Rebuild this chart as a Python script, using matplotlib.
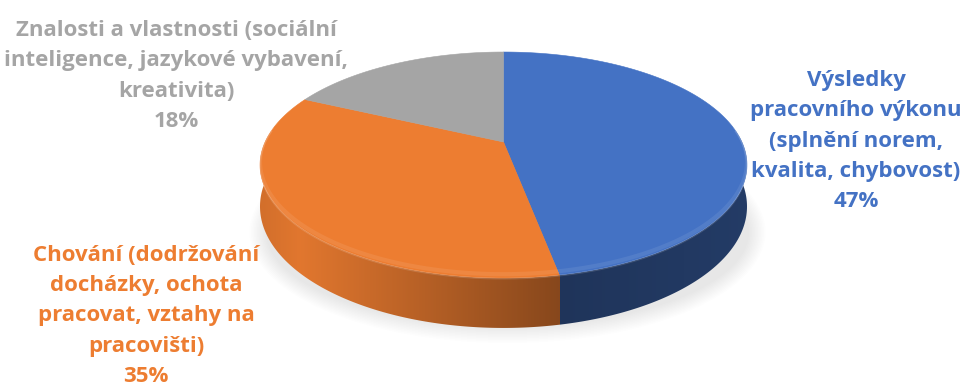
import numpy as np
import matplotlib.pyplot as plt
from matplotlib.patches import Polygon, Ellipse
from matplotlib.colors import to_rgb

# slice data, drawn clockwise from 12 o'clock
labels = [
    "Výsledky\npracovního výkonu\n(splnění norem,\nkvalita, chybovost)",
    "Chování (dodržování\ndocházky, ochota\npracovat, vztahy na\npracovišti)",
    "Znalosti a vlastnosti (sociální\ninteligence, jazykové vybavení,\nkreativita)",
]
shares = [47, 35, 18]
colors = ["#4472C4", "#ED7D31", "#A5A5A5"]

W, H = 964, 388
# pie centre, radii, perspective factor and wall height
cx, cy, A, B, k, D = 503.5, 142, 238.4, 108.3, 0.2035, 39.8

fig = plt.figure(figsize=(W / 100, H / 100), dpi=100)
ax = fig.add_axes([0, 0, 1, 1])


def proj(t, down=0.0):
    t = np.radians(t)
    X, Z = np.cos(t), np.sin(t)
    s = 1 + k * Z
    return cx + A * X / s, cy - B * Z / s + down / s


def shade(c, f):
    r, g, b = to_rgb(c)
    return np.array([min(r * f, 1), min(g * f, 1), min(b * f, 1)])


# faint shadow just under the pie
for i in range(12):
    ax.add_patch(Ellipse((cx + 4, 232), 516 - 3 * i, 222 - 3 * i,
                         color="#808080", alpha=0.014, lw=0, zorder=1))

bounds = 90 - np.cumsum([0] + shares) / 100 * 360
spans = list(zip(bounds[:-1], bounds[1:]))

# front wall, coloured column by column
xb = proj(bounds[1])[0]
cols = np.arange(250, 760)
img = np.zeros((1, len(cols), 3))
for j, x in enumerate(cols):
    if x < xb:
        u = np.clip((x - 300) / (xb - 300), 0, 1)
        f = 0.95 - 0.38 * u if x >= 300 else 0.88 + 0.07 * (x - 255) / 45
        img[0, j] = shade(colors[1], f)
    else:
        img[0, j] = shade(colors[0], 0.46 + 0.06 * (x - xb) / (745 - xb))
ts = np.linspace(-186, 6, 400)
tx, ty = proj(ts)
bx, by = proj(ts[::-1], D)
wall = Polygon(list(zip(tx, ty)) + list(zip(bx, by)), closed=True, lw=0, fc="none")
ax.add_patch(wall)
im = ax.imshow(img, extent=(cols[0], cols[-1] + 1, 345, 100), aspect="auto",
               interpolation="bilinear", zorder=2)
im.set_clip_path(wall)

# top faces
for i, (a0, a1) in enumerate(spans):
    ts = np.linspace(a0, a1, 240)
    xs, ys = proj(ts)
    ax.add_patch(Polygon([(cx, cy)] + list(zip(xs, ys)), closed=True,
                         fc=colors[i], ec=colors[i], lw=0.4, zorder=3))

# bevel highlight along the front rim
ts = np.linspace(-186, 6, 300)
xs, ys = proj(ts, -3)
ax.plot(xs, ys, color="white", lw=3, alpha=0.08, zorder=4)
xs, ys = proj(ts, 0.6)
ax.plot(xs, ys, color="white", lw=1.2, alpha=0.14, zorder=4)

font = dict(family="Open Sans", weight="bold", fontsize=16, ha="center",
            va="center", linespacing=1.58)
pos = [(856, 141), (146, 316), (176, 76)]
for i, (lab, s) in enumerate(zip(labels, shares)):
    ax.text(*pos[i], f"{lab}\n{s}%", color=colors[i], **font)

ax.set_xlim(0, W)
ax.set_ylim(H, 0)
ax.axis("off")
fig.savefig("out.png", dpi=100)
